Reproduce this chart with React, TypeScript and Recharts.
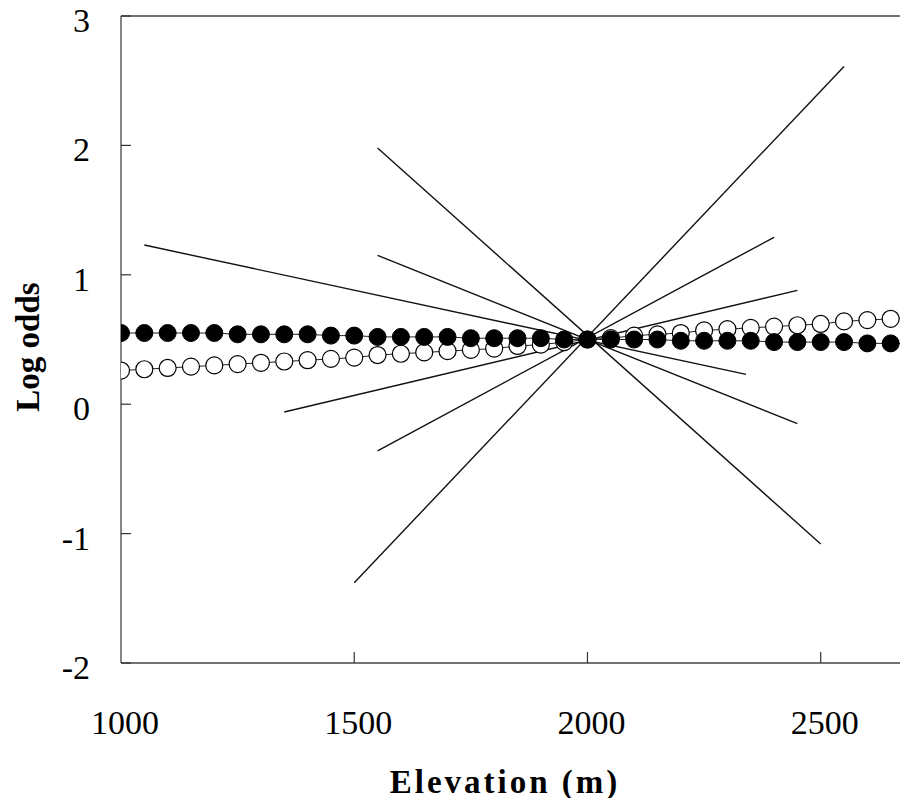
import { useEffect } from 'react';
import { ComposedChart, Line, XAxis, YAxis, ReferenceLine } from 'recharts';

// elevation steps for the two dotted series
const elevations = [
  1000, 1050, 1100, 1150, 1200, 1250, 1300, 1350, 1400, 1450, 1500, 1550,
  1600, 1650, 1700, 1750, 1800, 1850, 1900, 1950, 2000, 2050, 2100, 2150,
  2200, 2250, 2300, 2350, 2400, 2450, 2500, 2550, 2600, 2650, 2700,
];

// filled circles
const logOddsFilled = [
  0.55, 0.55, 0.55, 0.55, 0.55, 0.54, 0.54, 0.54, 0.54, 0.53, 0.53, 0.52,
  0.52, 0.52, 0.52, 0.51, 0.51, 0.51, 0.51, 0.5, 0.5, 0.5, 0.5, 0.5,
  0.49, 0.49, 0.49, 0.49, 0.48, 0.48, 0.48, 0.48, 0.47, 0.47, 0.47,
];

// open circles
const logOddsOpen = [
  0.26, 0.27, 0.28, 0.29, 0.3, 0.31, 0.32, 0.33, 0.34, 0.35, 0.36, 0.38,
  0.39, 0.4, 0.41, 0.42, 0.43, 0.45, 0.46, 0.48, 0.5, 0.51, 0.53, 0.54,
  0.55, 0.57, 0.58, 0.59, 0.6, 0.61, 0.62, 0.64, 0.65, 0.66, 0.68,
];

// the six straight lines crossing at 2000 m
const lineA = [{ x: 1550, y: 1.98 }, { x: 2500, y: -1.08 }];
const lineB = [{ x: 1500, y: -1.38 }, { x: 2550, y: 2.61 }];
const lineC = [{ x: 1550, y: 1.15 }, { x: 2450, y: -0.15 }];
const lineD = [{ x: 1050, y: 1.23 }, { x: 2340, y: 0.23 }];
const lineE = [{ x: 1350, y: -0.06 }, { x: 2450, y: 0.88 }];
const lineF = [{ x: 1550, y: -0.36 }, { x: 2400, y: 1.29 }];

const xTicks = [1000, 1500, 2000, 2500];
const yTicks = [-2, -1, 0, 1, 2, 3];

const serif = '"Liberation Serif", "Times New Roman", serif';

const filledData = elevations.map((x, i) => ({ x, y: logOddsFilled[i] }));
const openData = elevations.map((x, i) => ({ x, y: logOddsOpen[i] }));

const XTick = ({ x, y, payload }: any) => (
  <g>
    {payload.value !== 1000 && (
      <line x1={x} x2={x} y1={y} y2={y - 11} stroke="#333" strokeWidth={1.2} />
    )}
    <text x={x + 4} y={y + 71} textAnchor="middle" fontSize={34} fontFamily={serif} fill="#000">
      {payload.value}
    </text>
  </g>
);

const YTick = ({ x, y, payload }: any) => (
  <g>
    <line x1={x} x2={x + 10} y1={y} y2={y} stroke="#333" strokeWidth={1.2} />
    <text x={x - 31} y={y + 16} textAnchor="end" fontSize={34} fontFamily={serif} fill="#000">
      {payload.value}
    </text>
  </g>
);

const YTitle = () => (
  <text
    x={20}
    y={347}
    transform="rotate(-90, 20, 347)"
    textAnchor="middle"
    dominantBaseline="central"
    fontSize={33}
    fontWeight="bold"
    fontFamily={serif}
    fill="#000"
  >
    Log odds
  </text>
);

const XTitle = () => (
  <text
    x={497}
    y={793}
    textAnchor="middle"
    fontSize={33}
    fontWeight="bold"
    fontFamily={serif}
    letterSpacing={3}
    fill="#000"
  >
    Elevation (m)
  </text>
);

const filledDot = (p: any) => (
  <circle key={`f${p.index}`} cx={p.cx} cy={p.cy} r={8.5} fill="#000" stroke="#000" strokeWidth={1} />
);

const openDot = (p: any) => (
  <circle key={`o${p.index}`} cx={p.cx} cy={p.cy} r={8.5} fill="#fff" stroke="#000" strokeWidth={1.2} />
);

export default function App() {
  // no scrollbars; the plot area runs a little past the right edge like the original
  useEffect(() => {
    document.body.style.overflow = 'hidden';
  }, []);

  const straight = [lineA, lineB, lineC, lineD, lineE, lineF];
  return (
    <div style={{ width: 900, height: 806, overflow: 'hidden', marginTop: -8, marginBottom: -8 }}>
      <ComposedChart
        width={900}
        height={806}
        margin={{ top: 16, right: -6, bottom: 43, left: 0 }}
      >
        <XAxis
          type="number"
          dataKey="x"
          domain={[1000, 2700]}
          ticks={xTicks}
          allowDataOverflow
          axisLine={{ stroke: '#444', strokeWidth: 1.3 }}
          tickLine={false}
          tickSize={0}
          tickMargin={0}
          tick={<XTick />}
          height={100}
          label={<XTitle />}
        />
        <YAxis
          type="number"
          dataKey="y"
          domain={[-2, 3]}
          ticks={yTicks}
          allowDataOverflow
          axisLine={{ stroke: '#444', strokeWidth: 1.3 }}
          tickLine={false}
          tickSize={0}
          tickMargin={0}
          tick={<YTick />}
          width={113}
          label={<YTitle />}
        />
        <ReferenceLine y={3} stroke="#444" strokeWidth={1.3} />
        {straight.map((d, i) => (
          <Line
            key={i}
            data={d}
            dataKey="y"
            type="linear"
            stroke="#111"
            strokeWidth={1.4}
            dot={false}
            activeDot={false}
            isAnimationActive={false}
          />
        ))}
        <Line
          data={openData}
          dataKey="y"
          type="linear"
          stroke="#222"
          strokeWidth={1}
          dot={openDot}
          activeDot={false}
          isAnimationActive={false}
        />
        <Line
          data={filledData}
          dataKey="y"
          type="linear"
          stroke="#222"
          strokeWidth={1}
          dot={filledDot}
          activeDot={false}
          isAnimationActive={false}
        />
      </ComposedChart>
    </div>
  );
}
